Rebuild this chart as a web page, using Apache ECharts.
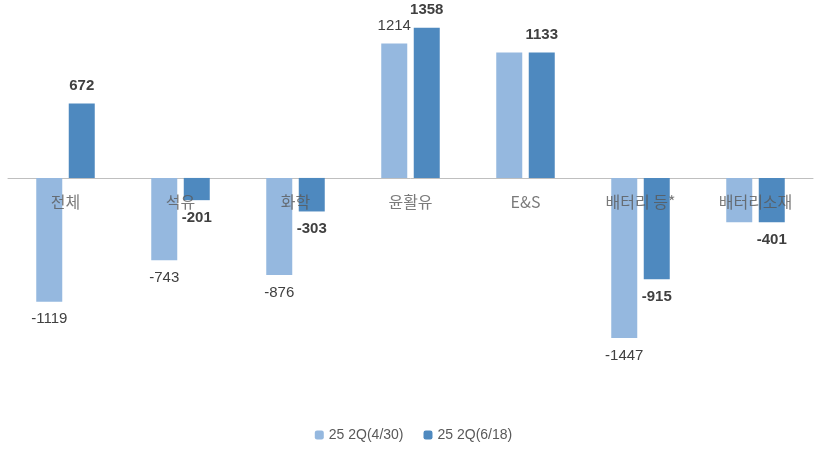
<!DOCTYPE html>
<html>
<head>
<meta charset="utf-8">
<script src="https://cdn.jsdelivr.net/npm/echarts@6/dist/echarts.min.js"></script>
<style>html,body{margin:0;padding:0;background:#fff}#main{width:827px;height:453px}</style>
</head>
<body>
<div id="main"></div>
<script>
// 카테고리 및 데이터
var categories = ['전체', '석유', '화학', '윤활유', 'E&S', '배터리 등*', '배터리소재'];
var seriesNames = ['25 2Q(4/30)', '25 2Q(6/18)'];
var valuesApr = [-1119, -743, -876, 1214, 1133, -1447, -401];
var valuesJun = [672, -201, -303, 1358, 1133, -915, -401];

var myChart = echarts.init(document.getElementById('main'));

function labelFor(bold) {
  return {
    show: true,
    fontFamily: 'Liberation Sans, Arial',
    fontSize: 15,
    color: '#404040',
    fontWeight: bold ? 'bold' : 'normal',
    formatter: function (p) { return p.value; }
  };
}

function buildData(arr, hideIdx) {
  return arr.map(function (v, i) {
    var item = { value: v, label: { position: v < 0 ? 'bottom' : 'top', distance: 10 } };
    if (hideIdx.indexOf(i) >= 0) item.label.show = false;
    return item;
  });
}

var option = {
  animation: false,
  grid: { left: 8, right: 14, top: 23, height: 332 },
  legend: {
    data: seriesNames,
    bottom: 6,
    itemWidth: 9,
    itemHeight: 9,
    itemGap: 20,
    textStyle: { color: '#595959', fontSize: 14, fontFamily: 'Liberation Sans, Arial' }
  },
  xAxis: {
    type: 'category',
    data: categories,
    axisLine: { onZero: true, lineStyle: { color: '#bfbfbf' } },
    axisTick: { show: false },
    axisLabel: { show: false }
  },
  yAxis: {
    type: 'value',
    min: -1600,
    max: 1400,
    show: false,
    splitLine: { show: false }
  },
  series: [{
    name: seriesNames[0],
    type: 'bar',
    barWidth: 26,
    barGap: '25%',
    itemStyle: { color: '#95b8df' },
    label: labelFor(false),
    data: buildData(valuesApr, [4, 6])
  }, {
    name: seriesNames[1],
    type: 'bar',
    barWidth: 26,
    itemStyle: { color: '#4e89bf' },
    label: labelFor(true),
    data: buildData(valuesJun, [])
  }, {
    // 카테고리 이름을 0선 바로 아래에 표시
    type: 'scatter',
    symbolSize: 0,
    silent: true,
    z: 5,
    data: categories.map(function (c) { return [c, 0]; }),
    label: {
      show: true,
      position: 'bottom',
      distance: 16,
      color: '#595959',
      fontSize: 16,
      fontFamily: 'Noto Sans CJK KR',
      formatter: function (p) { return p.name || p.value[0]; }
    }
  }]
};
myChart.setOption(option);
</script>
</body>
</html>
